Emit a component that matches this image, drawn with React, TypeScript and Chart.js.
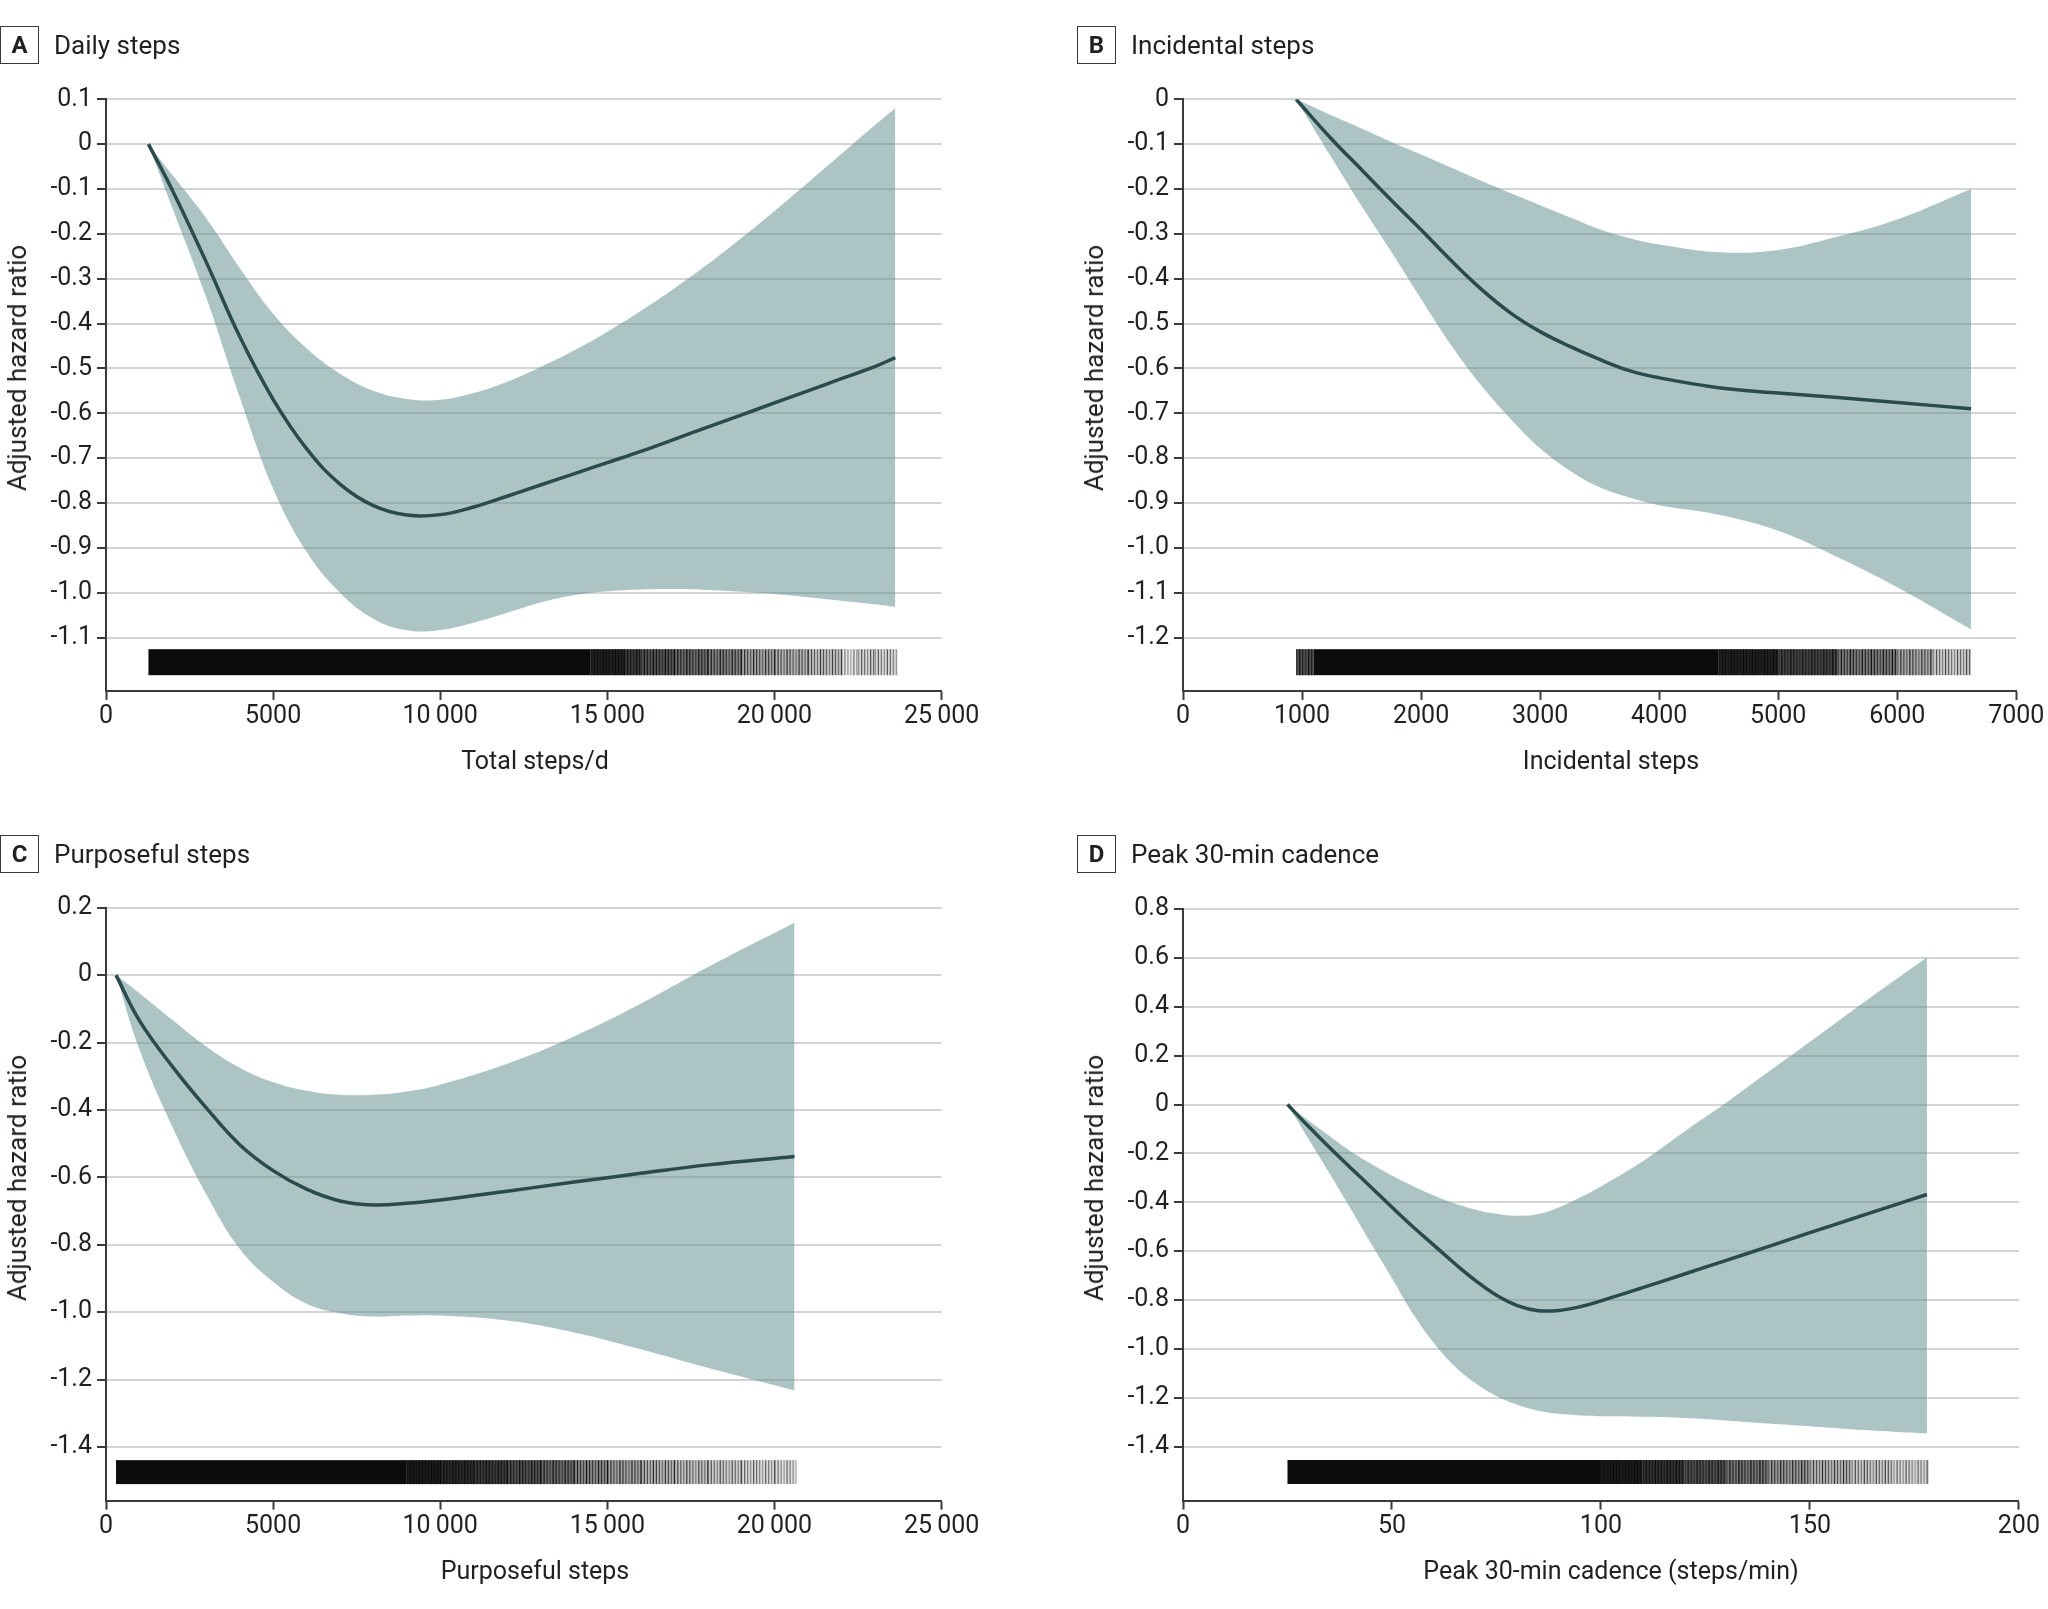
import React, { useEffect, useRef } from "react";
import { Chart, registerables } from "chart.js";
Chart.register(...registerables);

// ---------- Panel A: Daily steps ----------
const stepsA = [1270, 2000, 3000, 4000, 5000, 6000, 7000, 8000, 9000, 10000, 11000, 12000, 13000, 14000, 15000, 16000, 17000, 18000, 19000, 20000, 21000, 22000, 23000, 23615];
const meanA = [0, -0.105, -0.263, -0.429, -0.569, -0.679, -0.758, -0.806, -0.827, -0.826, -0.809, -0.785, -0.76, -0.735, -0.71, -0.685, -0.658, -0.631, -0.604, -0.577, -0.55, -0.523, -0.496, -0.476];
const upperA = [0, -0.07, -0.165, -0.276, -0.378, -0.455, -0.512, -0.55, -0.568, -0.57, -0.555, -0.53, -0.497, -0.46, -0.418, -0.372, -0.322, -0.268, -0.21, -0.149, -0.086, -0.022, 0.042, 0.08];
const lowerA = [0, -0.145, -0.342, -0.564, -0.768, -0.909, -1.0, -1.058, -1.084, -1.083, -1.067, -1.045, -1.022, -1.006, -0.997, -0.993, -0.992, -0.994, -0.998, -1.003, -1.01, -1.018, -1.026, -1.032];
const rugEdgesA = [1270, 14500, 15500, 16000, 17000, 18000, 19000, 20000, 21000, 22000, 22500, 23000, 23680];
const rugDensityA = [1, 0.96, 0.9, 0.84, 0.78, 0.72, 0.62, 0.56, 0.5, 0.3, 0.42, 0.4];
const xTicksA = [0, 5000, 10000, 15000, 20000, 25000];

// ---------- Panel B: Incidental steps ----------
const stepsB = [950, 1250, 1500, 1750, 2000, 2250, 2500, 2750, 3000, 3250, 3500, 3750, 4000, 4500, 5000, 5500, 6000, 6620];
const meanB = [0, -0.089, -0.157, -0.225, -0.291, -0.359, -0.422, -0.476, -0.518, -0.551, -0.58, -0.605, -0.621, -0.643, -0.655, -0.665, -0.676, -0.69];
const upperB = [0, -0.036, -0.065, -0.095, -0.123, -0.152, -0.181, -0.209, -0.236, -0.263, -0.29, -0.31, -0.324, -0.341, -0.336, -0.306, -0.268, -0.2];
const lowerB = [0, -0.131, -0.238, -0.34, -0.445, -0.547, -0.636, -0.712, -0.778, -0.828, -0.865, -0.888, -0.905, -0.926, -0.962, -1.021, -1.088, -1.182];
const rugEdgesB = [950, 1100, 4500, 5000, 5500, 6000, 6300, 6620];
const rugDensityB = [0.85, 1, 0.96, 0.88, 0.74, 0.6, 0.45];
const xTicksB = [0, 1000, 2000, 3000, 4000, 5000, 6000, 7000];

// ---------- Panel C: Purposeful steps ----------
const stepsC = [300, 1000, 2000, 3000, 4000, 5000, 6000, 7000, 8000, 9000, 10000, 12000, 14000, 16000, 18000, 20600];
const meanC = [0, -0.135, -0.273, -0.394, -0.503, -0.58, -0.635, -0.67, -0.682, -0.677, -0.667, -0.641, -0.614, -0.588, -0.563, -0.538];
const upperC = [0, -0.054, -0.134, -0.212, -0.275, -0.318, -0.343, -0.355, -0.355, -0.345, -0.325, -0.263, -0.182, -0.085, 0.023, 0.155];
const lowerC = [0, -0.22, -0.453, -0.65, -0.812, -0.91, -0.975, -1.003, -1.013, -1.01, -1.01, -1.025, -1.06, -1.11, -1.165, -1.232];
const rugEdgesC = [300, 9000, 10000, 11000, 12000, 13000, 14000, 15000, 16000, 17000, 18000, 19000, 20000, 20650];
const rugDensityC = [1, 0.97, 0.94, 0.9, 0.85, 0.78, 0.7, 0.62, 0.56, 0.5, 0.45, 0.4, 0.35];
const xTicksC = [0, 5000, 10000, 15000, 20000, 25000];

// ---------- Panel D: Peak 30-min cadence ----------
const cadenceD = [25, 30, 35, 40, 45, 50, 55, 60, 65, 70, 75, 80, 85, 90, 95, 100, 110, 120, 130, 140, 150, 160, 170, 178];
const meanD = [0, -0.089, -0.175, -0.257, -0.338, -0.42, -0.5, -0.575, -0.65, -0.72, -0.78, -0.822, -0.843, -0.842, -0.827, -0.803, -0.749, -0.693, -0.637, -0.581, -0.524, -0.468, -0.412, -0.368];
const upperD = [0, -0.065, -0.128, -0.19, -0.242, -0.29, -0.333, -0.372, -0.405, -0.43, -0.447, -0.455, -0.448, -0.42, -0.38, -0.335, -0.232, -0.11, 0.008, 0.133, 0.257, 0.382, 0.505, 0.603];
const lowerD = [0, -0.14, -0.28, -0.423, -0.568, -0.71, -0.855, -0.975, -1.07, -1.14, -1.192, -1.228, -1.252, -1.265, -1.272, -1.275, -1.277, -1.282, -1.292, -1.305, -1.316, -1.328, -1.338, -1.345];
const rugEdgesD = [25, 100, 110, 120, 130, 140, 150, 160, 170, 178.5];
const rugDensityD = [1, 0.97, 0.92, 0.85, 0.75, 0.65, 0.55, 0.47, 0.4];
const xTicksD = [0, 50, 100, 150, 200];

const FONT = "Roboto, 'Noto Sans', 'Liberation Sans', sans-serif";
const TEXT = "#231f20";
const AXIS = "#3a3a3a";
const GRID = "#d4d4d4";
const LINE = "#2a4b4d";
const BAND = "rgba(99,144,144,0.53)";
const RUG = "12,12,12";

type Panel = {
  letter: string;
  title: string;
  xTitle: string;
  x: number[];
  mean: number[];
  upper: number[];
  lower: number[];
  rugEdges: number[];
  rugDensity: number[];
  xTicks: number[];
  xMax: number;
  yMin: number;
  yMax: number;
  yStep: number;
  yTickMin: number;
  rugTop: number;
  rugBottom: number;
  left: number;
  top: number;
  padTop: number;
  padRight: number;
  xAxisH: number;
  boxLeft: number;
  boxTop: number;
  yTitleX: number;
  yTitleY: number;
  xTitleX: number;
  xTitleY: number;
};

const CW = 1000;
const CH = 700;

const panels: Panel[] = [
  {
    letter: "A", title: "Daily steps", xTitle: "Total steps/d",
    x: stepsA, mean: meanA, upper: upperA, lower: lowerA,
    rugEdges: rugEdgesA, rugDensity: rugDensityA, xTicks: xTicksA, xMax: 25000,
    yMin: -1.219, yMax: 0.1, yStep: 0.1, yTickMin: -1.1, rugTop: -1.126, rugBottom: -1.184,
    left: 0, top: 60, padTop: 39.3, padRight: 58.4, xAxisH: 69.1,
    boxLeft: 0, boxTop: 26, yTitleX: 17, yTitleY: 368, xTitleX: 535, xTitleY: 760,
  },
  {
    letter: "B", title: "Incidental steps", xTitle: "Incidental steps",
    x: stepsB, mean: meanB, upper: upperB, lower: lowerB,
    rugEdges: rugEdgesB, rugDensity: rugDensityB, xTicks: xTicksB, xMax: 7000,
    yMin: -1.319, yMax: 0, yStep: 0.1, yTickMin: -1.2, rugTop: -1.226, rugBottom: -1.284,
    left: 1077.3, top: 60, padTop: 39.3, padRight: 60.7, xAxisH: 69.1,
    boxLeft: 1077, boxTop: 26, yTitleX: 1094, yTitleY: 368, xTitleX: 1611, xTitleY: 760,
  },
  {
    letter: "C", title: "Purposeful steps", xTitle: "Purposeful steps",
    x: stepsC, mean: meanC, upper: upperC, lower: lowerC,
    rugEdges: rugEdgesC, rugDensity: rugDensityC, xTicks: xTicksC, xMax: 25000,
    yMin: -1.559, yMax: 0.2, yStep: 0.2, yTickMin: -1.4, rugTop: -1.439, rugBottom: -1.51,
    left: 0, top: 870, padTop: 37.7, padRight: 58.4, xAxisH: 69.4,
    boxLeft: 0, boxTop: 835, yTitleX: 17, yTitleY: 1178, xTitleX: 535, xTitleY: 1570,
  },
  {
    letter: "D", title: "Peak 30-min cadence", xTitle: "Peak 30-min cadence (steps/min)",
    x: cadenceD, mean: meanD, upper: upperD, lower: lowerD,
    rugEdges: rugEdgesD, rugDensity: rugDensityD, xTicks: xTicksD, xMax: 200,
    yMin: -1.62, yMax: 0.8, yStep: 0.2, yTickMin: -1.4, rugTop: -1.454, rugBottom: -1.552,
    left: 1077.3, top: 870, padTop: 39, padRight: 58.1, xAxisH: 69.4,
    boxLeft: 1077, boxTop: 835, yTitleX: 1094, yTitleY: 1178, xTitleX: 1611, xTitleY: 1570,
  },
];

function fmtX(v: number): string {
  const s = String(Math.round(v));
  if (s.length <= 4) return s;
  return s.slice(0, s.length - 3) + "\u2009" + s.slice(s.length - 3);
}

function fmtY(v: number): string {
  if (Math.abs(v) < 1e-9) return "0";
  return v.toFixed(1);
}

function rugPlugin(p: Panel) {
  return {
    id: "rug" + p.letter,
    afterDatasetsDraw(chart: any) {
      const { ctx } = chart;
      const xs = chart.scales.x;
      const ys = chart.scales.y;
      const top = ys.getPixelForValue(p.rugTop);
      const bot = ys.getPixelForValue(p.rugBottom);
      ctx.save();
      for (let i = 0; i < p.rugDensity.length; i++) {
        const p0 = xs.getPixelForValue(p.rugEdges[i]);
        const p1 = xs.getPixelForValue(p.rugEdges[i + 1]);
        const d = p.rugDensity[i];
        if (d >= 0.99) {
          ctx.fillStyle = `rgb(${RUG})`;
          ctx.fillRect(p0, top, p1 - p0, bot - top);
          continue;
        }
        ctx.fillStyle = `rgba(${RUG},${(d * d).toFixed(3)})`;
        ctx.fillRect(p0, top, p1 - p0, bot - top);
        let k = 0;
        for (let px = p0; px < p1; px += 3, k++) {
          const a = Math.min(1, d + 0.25) * (0.5 + (0.5 * ((k * 5) % 7)) / 6);
          ctx.fillStyle = `rgba(${RUG},${a.toFixed(3)})`;
          ctx.fillRect(px, top, 1.2, bot - top);
        }
      }
      ctx.restore();
    },
  };
}

function makeConfig(p: Panel): any {
  const pts = (ys: number[]) => p.x.map((x, i) => ({ x, y: ys[i] }));
  const tickFont = { family: FONT, size: 25 };
  return {
    type: "line",
    data: {
      datasets: [
        {
          data: pts(p.mean), borderColor: LINE, borderWidth: 3.5, pointRadius: 0,
          fill: false, tension: 0.4,
        },
        {
          data: pts(p.upper), borderColor: "rgba(0,0,0,0)", borderWidth: 0, pointRadius: 0,
          fill: false, tension: 0.4,
        },
        {
          data: pts(p.lower), borderColor: "rgba(0,0,0,0)", borderWidth: 0, pointRadius: 0,
          fill: "-1", backgroundColor: BAND, tension: 0.4,
        },
      ],
    },
    options: {
      animation: false,
      responsive: false,
      devicePixelRatio: 1,
      events: [],
      layout: { padding: { left: 0, top: p.padTop, right: p.padRight, bottom: 0 } },
      plugins: { legend: { display: false }, tooltip: { enabled: false }, title: { display: false } },
      scales: {
        x: {
          type: "linear",
          min: 0,
          max: p.xMax,
          afterBuildTicks: (s: any) => { s.ticks = p.xTicks.map((v) => ({ value: v })); },
          ticks: {
            font: tickFont, color: TEXT, padding: 2, maxRotation: 0, autoSkip: false,
            callback: (v: number) => fmtX(v),
          },
          grid: { drawOnChartArea: false, drawTicks: true, tickLength: 9, tickColor: AXIS, tickWidth: 2 },
          border: { display: true, color: AXIS, width: 2 },
          afterFit: (s: any) => { s.height = p.xAxisH; },
        },
        y: {
          type: "linear",
          min: p.yMin,
          max: p.yMax,
          afterBuildTicks: (s: any) => {
            s.ticks = s.ticks.filter((t: any) => t.value >= p.yTickMin - 1e-6 && t.value <= p.yMax + 1e-6);
          },
          ticks: {
            stepSize: p.yStep, includeBounds: false, font: tickFont, color: TEXT, padding: 5,
            callback: (v: number) => fmtY(v),
          },
          grid: { color: GRID, lineWidth: 2, drawTicks: true, tickLength: 9, tickColor: AXIS, tickWidth: 2 },
          border: { display: true, color: AXIS, width: 2 },
          afterFit: (s: any) => { s.width = 106; },
        },
      },
    },
    plugins: [rugPlugin(p)],
  };
}

function PanelChart({ p }: { p: Panel }) {
  const ref = useRef<HTMLCanvasElement | null>(null);
  useEffect(() => {
    if (!ref.current) return;
    const chart = new Chart(ref.current, makeConfig(p));
    return () => chart.destroy();
  }, [p]);
  return (
    <>
      <canvas
        ref={ref}
        width={CW}
        height={CH}
        style={{ position: "absolute", left: p.left, top: p.top, width: CW, height: CH }}
      />
      <div
        style={{
          position: "absolute", left: p.boxLeft, top: p.boxTop, width: 39, height: 38,
          boxSizing: "border-box", border: `1.5px solid ${AXIS}`, display: "flex",
          alignItems: "center", justifyContent: "center", fontFamily: FONT,
          fontWeight: 700, fontSize: 24, color: TEXT, lineHeight: 1,
        }}
      >
        {p.letter}
      </div>
      <div
        style={{
          position: "absolute", left: p.boxLeft + 54, top: p.boxTop + 19,
          transform: "translateY(-50%)", fontFamily: FONT, fontSize: 26,
          color: TEXT, lineHeight: 1, whiteSpace: "nowrap",
        }}
      >
        {p.title}
      </div>
      <div
        style={{
          position: "absolute", left: p.yTitleX, top: p.yTitleY,
          transform: "translate(-50%, -50%) rotate(-90deg)", fontFamily: FONT,
          fontSize: 26, color: TEXT, lineHeight: 1, whiteSpace: "nowrap",
        }}
      >
        Adjusted hazard ratio
      </div>
      <div
        style={{
          position: "absolute", left: p.xTitleX, top: p.xTitleY,
          transform: "translate(-50%, -50%)", fontFamily: FONT,
          fontSize: 25, color: TEXT, lineHeight: 1, whiteSpace: "nowrap",
        }}
      >
        {p.xTitle}
      </div>
    </>
  );
}

export default function App() {
  return (
    <div
      style={{
        position: "absolute", left: 0, top: 0, width: 2048, height: 1609,
        overflow: "hidden", background: "#ffffff",
      }}
    >
      {panels.map((p) => (
        <PanelChart key={p.letter} p={p} />
      ))}
    </div>
  );
}
